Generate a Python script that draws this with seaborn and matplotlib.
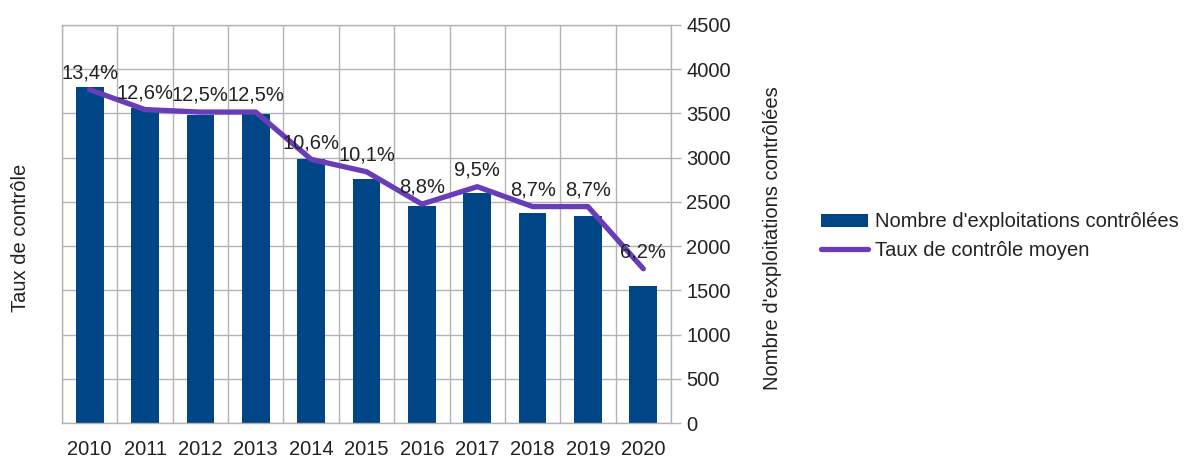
import numpy as np
import pandas as pd
import matplotlib
matplotlib.use("Agg")
import matplotlib.pyplot as plt
from matplotlib.patches import Patch
from matplotlib.lines import Line2D
import seaborn as sns

# Contrôles des exploitations, 2010-2020
years = ["2010", "2011", "2012", "2013", "2014", "2015",
         "2016", "2017", "2018", "2019", "2020"]
nb_controlees = [3800, 3560, 3480, 3490, 2980, 2755,
                 2455, 2600, 2380, 2335, 1550]
taux_controle = [13.4, 12.6, 12.5, 12.5, 10.6, 10.1,
                 8.8, 9.5, 8.7, 8.7, 6.2]
count_ticks = list(range(0, 4501, 500))

BAR_COLOR = "#004586"
LINE_COLOR = "#6a3db8"
GRID_COLOR = "#b3b3b3"
TEXT_COLOR = "#222222"
FS = 14.5

sns.set_style("white")
plt.rcParams["font.family"] = ["Liberation Sans", "DejaVu Sans"]
plt.rcParams["text.color"] = TEXT_COLOR

W, H = 1193, 461
fig = plt.figure(figsize=(W / 100, H / 100), dpi=100)
left, right, top, bottom = 62, 671, 25, 423
ax = fig.add_axes([left / W, (H - bottom) / H, (right - left) / W, (bottom - top) / H])
# Twin axis for the rate line (drawn above the bars)
ax2 = ax.twinx()

df = pd.DataFrame({"annee": years, "nb": nb_controlees})
sns.barplot(data=df, x="annee", y="nb", color=BAR_COLOR, saturation=1,
            width=0.5, ax=ax, linewidth=0)

# Count axis on the right
ax.set_ylim(0, 4500)
ax.set_yticks(count_ticks)
ax.yaxis.tick_right()
ax.tick_params(axis="y", which="major", length=7, width=1, color=GRID_COLOR,
               labelsize=FS, labelcolor=TEXT_COLOR, pad=4,
               left=False, labelleft=False, right=True, labelright=True)
ax.set_ylabel("Nombre d'exploitations contrôlées", fontsize=FS, color=TEXT_COLOR)
ax.yaxis.set_label_position("right")
ax.yaxis.set_label_coords((773 - left) / (right - left), (bottom - 238) / (bottom - top))
ax.yaxis.label.set_horizontalalignment("center")
ax.yaxis.label.set_verticalalignment("center")

# Category axis: labels at centres, ticks and grid at boundaries
n = len(years)
ax.set_xlim(-0.5, n - 0.5)
ax.set_xticks(np.arange(n))
ax.set_xticks(np.arange(n + 1) - 0.5, minor=True)
ax.tick_params(axis="x", which="major", length=0, labelsize=FS,
               labelcolor=TEXT_COLOR, pad=12)
ax.tick_params(axis="x", which="minor", length=7, width=1, color=GRID_COLOR)
ax.set_xlabel("")

ax.set_axisbelow(True)
ax.grid(axis="y", which="major", color=GRID_COLOR, linewidth=1)
ax.grid(axis="x", which="minor", color=GRID_COLOR, linewidth=1)
for s in ax.spines.values():
    s.set_color(GRID_COLOR)
    s.set_linewidth(1)

# Rate line, scale hidden, title on the left
pos = np.arange(n)
sns.lineplot(x=pos, y=taux_controle, color=LINE_COLOR, linewidth=3.8,
             ax=ax2, solid_joinstyle="round")
ax2.set_ylim(0, 16)
ax2.set_yticks([])
ax2.tick_params(axis="y", left=False, right=False, labelleft=False, labelright=False)
ax2.yaxis.set_label_position("left")
ax2.set_ylabel("Taux de contrôle", fontsize=FS, color=TEXT_COLOR)
ax2.yaxis.set_label_coords((20 - left) / (right - left), (bottom - 238) / (bottom - top))
ax2.yaxis.label.set_horizontalalignment("center")
ax2.yaxis.label.set_verticalalignment("center")
for s in ax2.spines.values():
    s.set_visible(False)

for x, v in zip(pos, taux_controle):
    ax2.annotate(f"{v:.1f}".replace(".", ",") + "%", (x, v),
                 xytext=(0, 12), textcoords="offset points",
                 ha="center", va="center", fontsize=FS, color=TEXT_COLOR)

handles = [Patch(facecolor=BAR_COLOR, edgecolor="none"),
           Line2D([0], [0], color=LINE_COLOR, linewidth=3.8)]
fig.legend(handles, ["Nombre d'exploitations contrôlées", "Taux de contrôle moyen"],
           loc="center left", bbox_to_anchor=(821 / W, 1 - 236 / H),
           frameon=False, fontsize=FS, borderpad=0, borderaxespad=0,
           handlelength=2.35, handleheight=0.65, handletextpad=0.35,
           labelspacing=0.45)

fig.savefig("out.png", dpi=100)
